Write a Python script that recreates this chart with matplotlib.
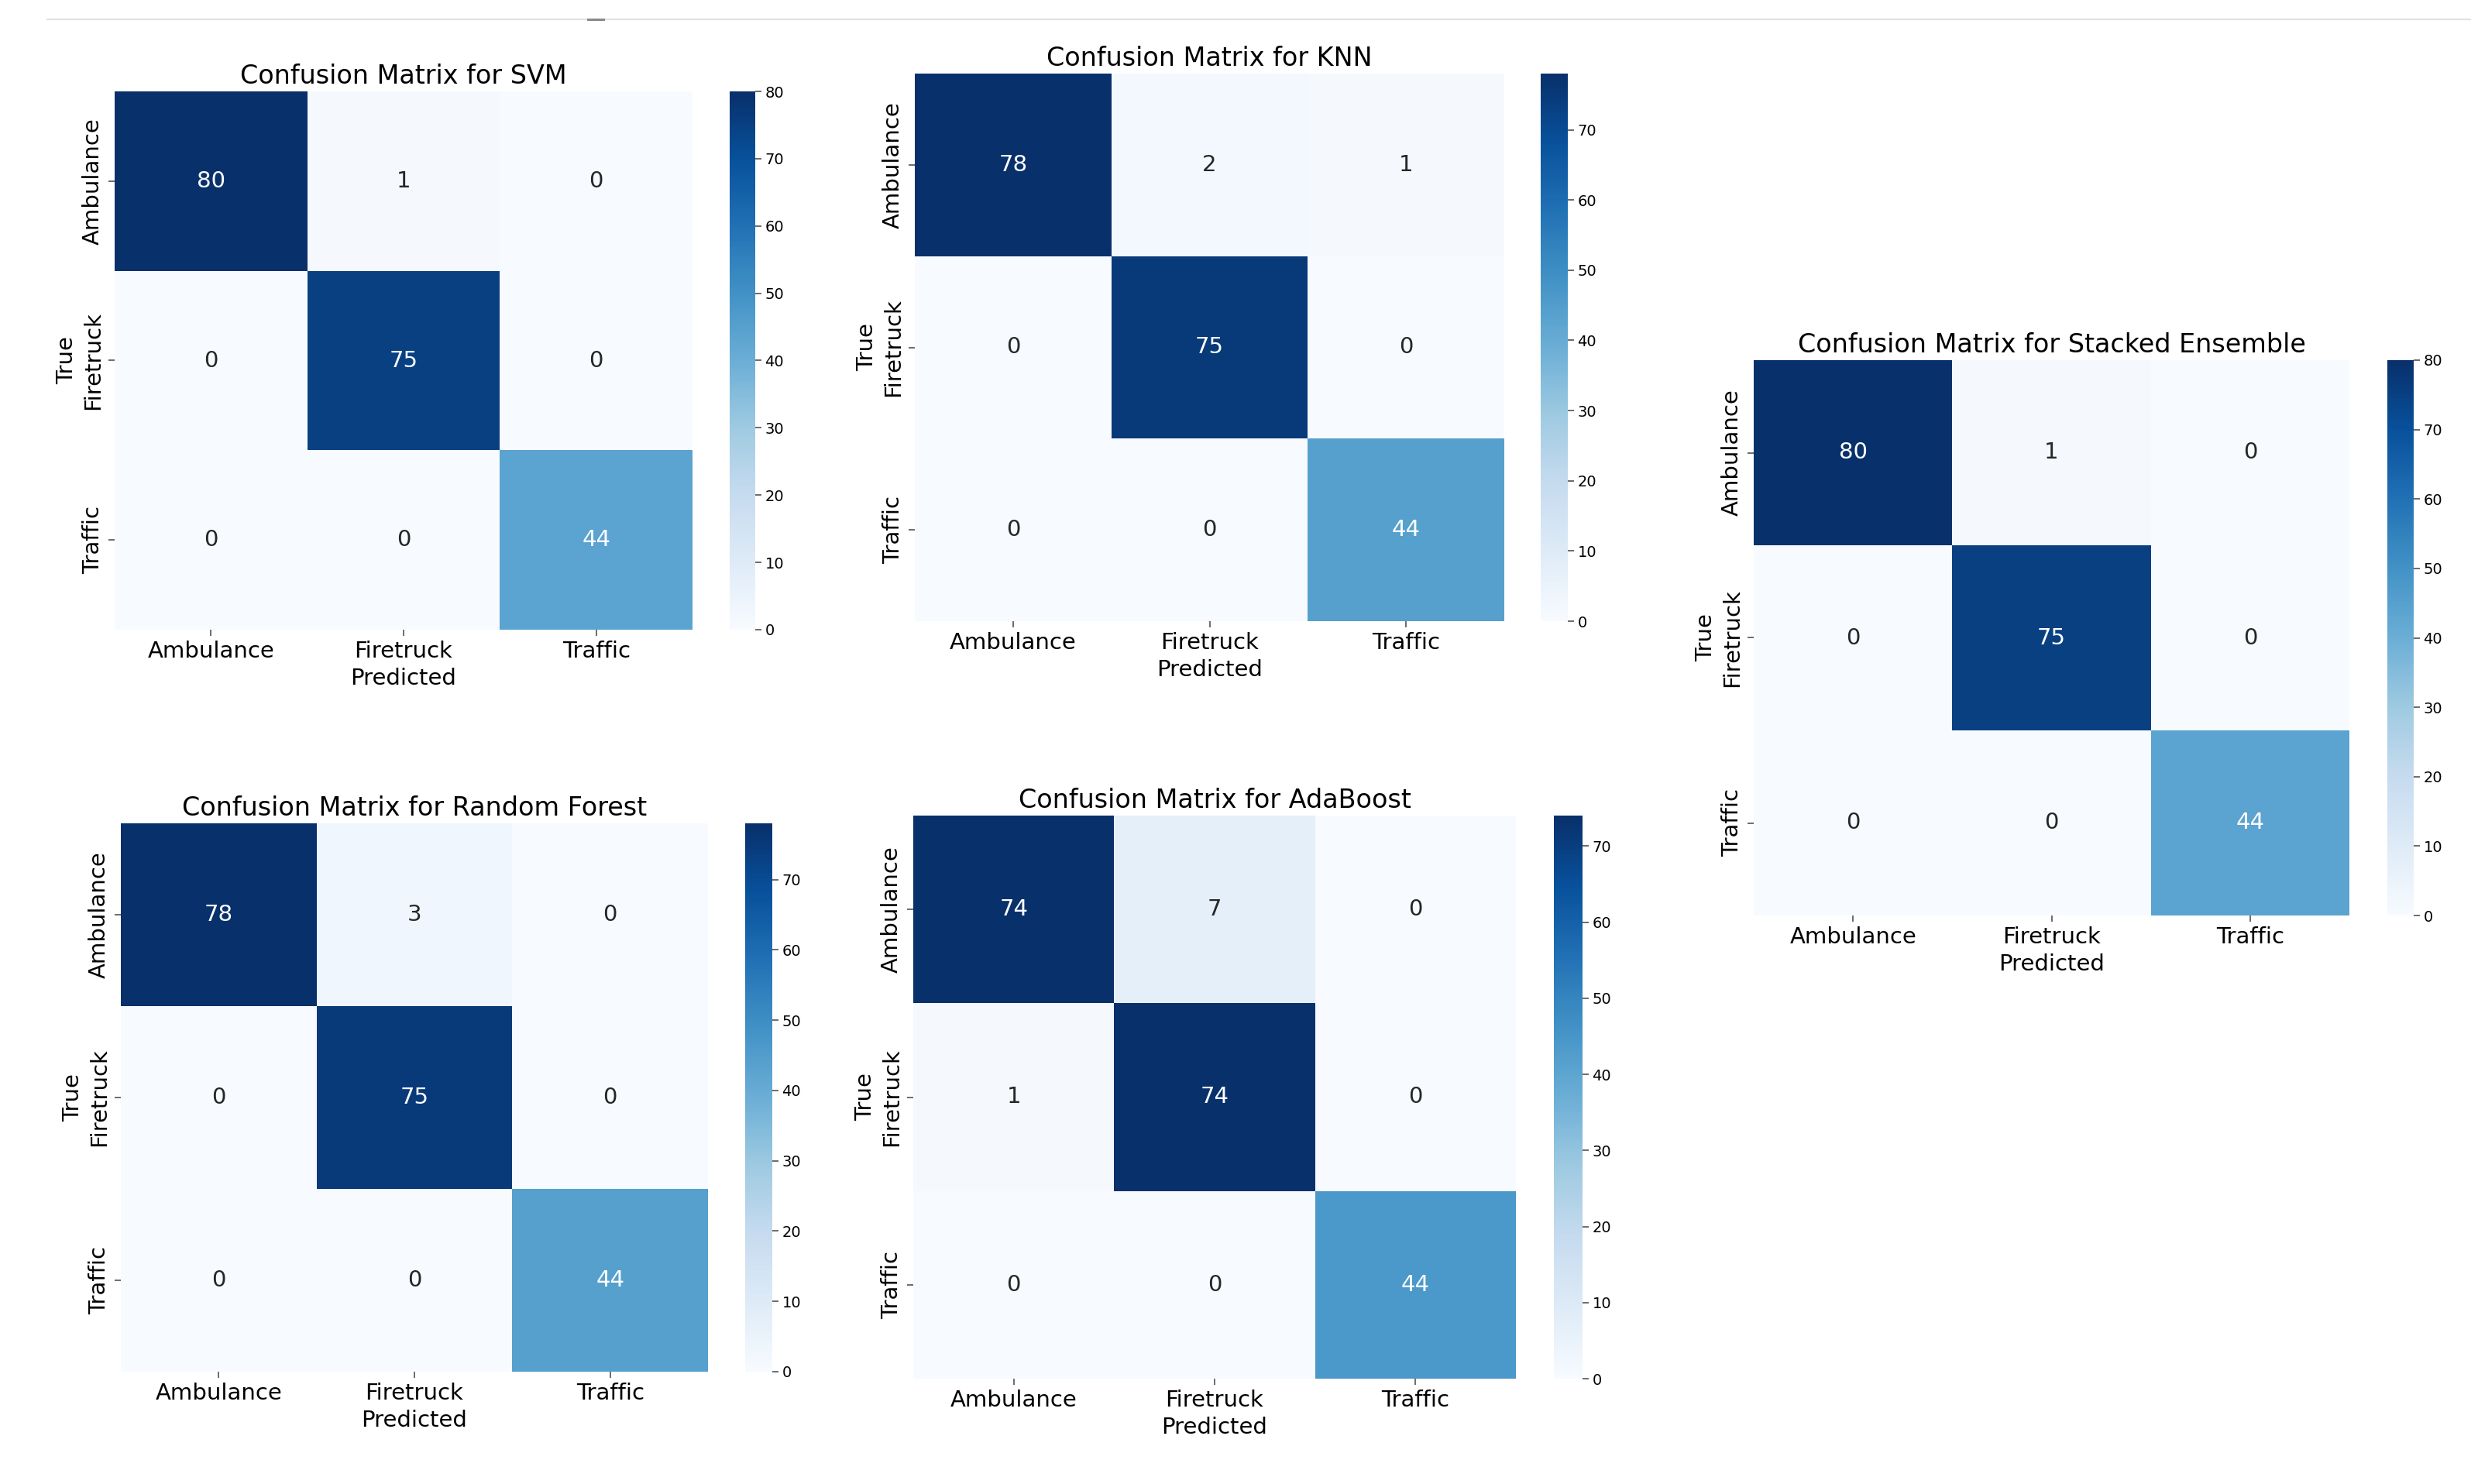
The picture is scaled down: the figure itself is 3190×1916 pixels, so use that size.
import matplotlib
matplotlib.use("Agg")
import matplotlib.pyplot as plt
from matplotlib.lines import Line2D
import numpy as np
import seaborn as sns

classes = ["Ambulance", "Firetruck", "Traffic"]

svm_cm = [[80, 1, 0], [0, 75, 0], [0, 0, 44]]
knn_cm = [[78, 2, 1], [0, 75, 0], [0, 0, 44]]
stacked_cm = [[80, 1, 0], [0, 75, 0], [0, 0, 44]]
rf_cm = [[78, 3, 0], [0, 75, 0], [0, 0, 44]]
ada_cm = [[74, 7, 0], [1, 74, 0], [0, 0, 44]]

model_names = ["SVM", "KNN", "Stacked Ensemble", "Random Forest", "AdaBoost"]
matrices = [svm_cm, knn_cm, stacked_cm, rf_cm, ada_cm]

W, H = 3190, 1916
fig = plt.figure(figsize=(W / 100, H / 100), dpi=100)

# pixel boxes (left, top, right, bottom) of heatmap and colorbar
boxes = [
    ((148, 118, 894, 813), (942, 975)),
    ((1181, 95, 1942, 802), (1989, 2024)),
    ((2264, 465, 3033, 1182), (3082, 3116)),
    ((156, 1063, 914, 1771), (962, 997)),
    ((1179, 1053, 1957, 1780), (2006, 2043)),
]


def px_axes(l, t, r, b):
    return fig.add_axes([l / W, 1 - b / H, (r - l) / W, (b - t) / H])


for name, cm, (hm, cb) in zip(model_names, matrices, boxes):
    l, t, r, b = hm
    ax = px_axes(l, t, r, b)
    cax = px_axes(cb[0], t, cb[1], b)
    cm = np.array(cm)
    sns.heatmap(cm, annot=True, fmt="d", cmap="Blues",
                xticklabels=classes, yticklabels=classes,
                ax=ax, cbar_ax=cax, annot_kws={"size": 21})
    ax.set_title(f"Confusion Matrix for {name}", fontsize=24, pad=7)
    ax.set_xlabel("Predicted", fontsize=21, labelpad=5)
    ax.set_ylabel("True", fontsize=21)
    ax.tick_params(axis="both", labelsize=21, length=5.5, width=1.1,
                   color="#444444", pad=4.5)
    plt.setp(ax.get_yticklabels(), rotation=90, va="center")
    plt.setp(ax.get_xticklabels(), rotation=0)
    cbar = ax.collections[0].colorbar
    cbar.set_ticks(np.arange(0, cm.max() + 1, 10))
    cax.tick_params(labelsize=14, length=5.5, width=1.1, color="#444444")

# screenshot separator line at the top
fig.add_artist(Line2D([61 / W, 1], [1 - 25 / H, 1 - 25 / H], color="#e2e2e2", lw=1.6))
fig.add_artist(Line2D([759 / W, 779 / W], [1 - 25 / H, 1 - 25 / H], color="#8a8a8a", lw=2.2))

fig.savefig("out.png", dpi=100, facecolor="white")
